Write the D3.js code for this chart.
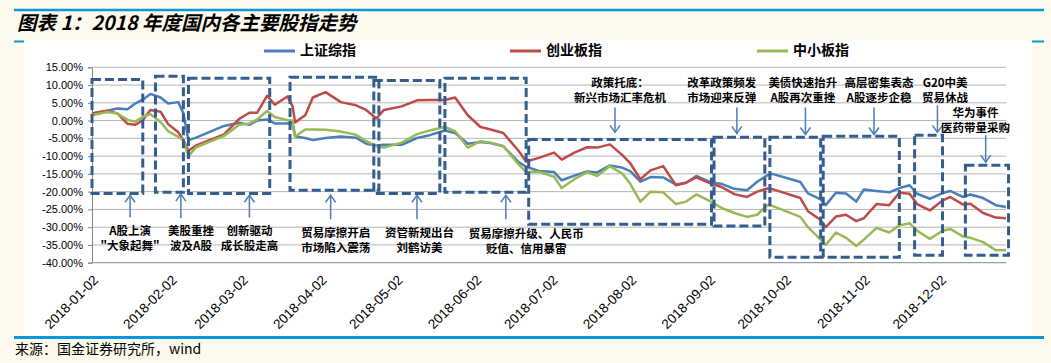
<!DOCTYPE html>
<html lang="zh">
<head>
<meta charset="UTF-8">
<title>2018年度国内各主要股指走势</title>
<style>
    * { margin: 0; padding: 0; }
    body { background: #fef9ed; }
    svg { display: block; }
</style>
</head>
<body>
<div id="chart"></div>
<script src="https://cdn.jsdelivr.net/npm/d3@7"></script>
<script>
// 日期（交易日采样）
const dates = [
    '2018-01-02', '2018-01-08', '2018-01-12', '2018-01-16', '2018-01-19', '2018-01-22', '2018-01-25', '2018-01-29',
    '2018-02-01', '2018-02-05', '2018-02-07', '2018-02-09', '2018-02-12', '2018-02-23',
    '2018-03-01', '2018-03-05', '2018-03-08', '2018-03-12', '2018-03-15', '2018-03-20', '2018-03-22', '2018-03-23', '2018-03-27', '2018-03-30',
    '2018-04-04', '2018-04-10', '2018-04-16', '2018-04-20', '2018-04-24', '2018-04-27',
    '2018-05-04', '2018-05-10', '2018-05-15', '2018-05-21', '2018-05-25', '2018-05-30',
    '2018-06-04', '2018-06-08', '2018-06-13', '2018-06-19', '2018-06-22', '2018-06-27',
    '2018-07-03', '2018-07-06', '2018-07-11', '2018-07-16', '2018-07-20', '2018-07-25', '2018-07-30',
    '2018-08-02', '2018-08-06', '2018-08-10', '2018-08-15', '2018-08-20', '2018-08-24', '2018-08-28',
    '2018-09-03', '2018-09-07', '2018-09-12', '2018-09-17', '2018-09-21', '2018-09-25', '2018-09-27',
    '2018-10-08', '2018-10-11', '2018-10-16', '2018-10-18', '2018-10-22', '2018-10-26', '2018-10-30',
    '2018-11-02', '2018-11-07', '2018-11-12', '2018-11-16', '2018-11-20', '2018-11-23', '2018-11-28',
    '2018-12-03', '2018-12-06', '2018-12-11', '2018-12-14', '2018-12-19', '2018-12-24', '2018-12-28'
]

// 上证综指 累计涨跌幅 %
const shIndex = [
    2.0, 2.8, 3.4, 3.2, 4.8, 5.9, 7.5, 6.5,
    4.8, 5.2, 2.0, -5.5, -4.8, -1.5,
    -0.6, -1.2, 0.0, 0.3, -0.8, -0.8, -0.8, -4.5, -4.9, -5.5,
    -4.9, -4.5, -4.8, -6.5, -7.0, -6.8,
    -6.8, -4.9, -4.1, -2.8, -3.5, -6.5,
    -6.0, -6.3, -7.2, -11.7, -13.0, -14.2,
    -14.5, -16.8, -15.5, -14.3, -14.6, -12.6, -13.3,
    -14.2, -17.2, -15.9, -16.0, -18.0, -17.5, -15.6,
    -17.5, -17.8, -19.2, -19.6, -17.2, -15.4, -15.0,
    -17.3, -20.5, -22.2, -23.8, -20.3, -20.5, -22.8,
    -19.4, -19.8, -20.2, -19.0, -18.2, -20.6, -22.0,
    -20.4, -19.8, -21.5, -20.8, -21.8, -23.8, -24.3
]

// 创业板指
const cyIndex = [
    2.0, 2.8, 2.0, -0.9, -1.2, 0.1, 3.0, 2.5,
    -1.0, -3.3, -5.5, -8.5, -7.0, -3.9,
    0.5, 2.2, 2.2, 7.0, 4.5, 6.8, 4.0, -0.5, 1.5, 6.5,
    8.0, 5.2, 4.3, 3.0, 0.6, 3.0,
    4.0, 5.7, 5.8, 5.8, 6.5, 1.5,
    -1.8, -2.5, -3.5, -8.5, -11.5, -10.5,
    -9.0, -11.0, -9.0, -7.5, -7.6, -6.7, -9.8,
    -12.0, -16.5, -14.0, -12.8, -18.2, -17.5, -16.0,
    -17.8, -18.7, -20.7, -21.5, -20.0, -19.1, -19.3,
    -21.8, -25.5, -28.0, -30.0, -27.0, -26.5, -28.3,
    -27.5, -23.5, -23.8, -20.3, -20.6, -23.5, -25.3,
    -22.5, -21.5, -23.6, -23.4, -26.0, -27.3, -27.5
]

// 中小板指
const zxIndex = [
    1.5, 2.4, 2.0, 0.2, -0.3, 1.0, 1.8, -0.4,
    -3.0, -4.6, -5.5, -10.0, -7.5, -4.3,
    -1.2, -0.8, 0.3, 2.7, 1.0, 0.1, 0.0, -4.5, -2.5, -2.5,
    -2.6, -3.1, -4.0, -5.8, -7.2, -7.6,
    -6.2, -3.8, -2.8, -1.8, -3.0, -7.6,
    -5.8, -6.2, -7.2, -12.3, -14.5, -14.4,
    -15.8, -19.0, -16.5, -14.5, -15.6, -12.8, -15.0,
    -17.8, -22.8, -20.0, -20.2, -23.5, -22.8, -20.8,
    -22.9, -24.6, -26.0, -27.1, -26.5, -23.8, -24.0,
    -27.1, -30.0, -33.5, -35.0, -31.5, -33.0, -35.3,
    -33.5, -30.2, -31.5, -29.5, -28.9, -31.0, -33.3,
    -31.0, -30.5, -32.6, -33.0, -34.2, -36.5, -36.4
]

const seriesNames = ['上证综指', '创业板指', '中小板指']
const tickLabels = [
    '2018-01-02', '2018-02-02', '2018-03-02', '2018-04-02', '2018-05-02', '2018-06-02',
    '2018-07-02', '2018-08-02', '2018-09-02', '2018-10-02', '2018-11-02', '2018-12-02'
]
const yTicks = [15, 10, 5, 0, -5, -10, -15, -20, -25, -30, -35, -40]

// 虚线框：起始日、结束日、上沿%、下沿%
const boxes = [
    ['2018-01-02', '2018-01-22', 11.6, -20.5],
    ['2018-01-27', '2018-02-07', 12.5, -20.2],
    ['2018-02-09', '2018-03-13', 11.9, -20.5],
    ['2018-03-21', '2018-04-25', 12.2, -19.6],
    ['2018-04-23', '2018-05-19', 11.3, -20.5],
    ['2018-05-21', '2018-06-22', 11.9, -20.2],
    ['2018-06-23', '2018-09-03', -5.3, -29.2],
    ['2018-09-04', '2018-09-24', -4.7, -29.7],
    ['2018-09-26', '2018-10-16', -4.7, -38.5],
    ['2018-10-17', '2018-11-16', -4.4, -38.5],
    ['2018-11-22', '2018-12-03', -4.1, -37.9],
    ['2018-12-12', '2018-12-29', -12.6, -37.9]
]

// 事件注释
const noteLines = [
    ['A股上演', '"大象起舞"'],
    ['美股重挫', '波及A股'],
    ['创新驱动', '成长股走高'],
    ['贸易摩擦开启', '市场陷入震荡'],
    ['资管新规出台', '刘鹤访美'],
    ['贸易摩擦升级、人民币', '贬值、信用暴雷'],
    ['政策托底：', '新兴市场汇率危机'],
    ['改革政策频发', '市场迎来反弹'],
    ['美债快速抬升', 'A股再次重挫'],
    ['高层密集表态', 'A股逐步企稳'],
    ['G20中美', '贸易休战'],
    ['华为事件', '医药带量采购']
]
const noteDates = [
    '2018-01-17', '2018-02-10', '2018-03-05', '2018-04-08', '2018-05-11', '2018-06-22',
    '2018-07-29', '2018-09-07', '2018-10-09', '2018-11-08', '2018-12-04', '2018-12-16'
]
const noteValues = [-31.2, -31.2, -31.2, -31.7, -31.7, -32.0, 10.5, 10.5, 10.5, 10.5, 10.5, 2.1]

// 箭头：日期、起点%、箭头尖%
const arrowDates = [
    '2018-01-17', '2018-02-06', '2018-03-05', '2018-04-06', '2018-05-10', '2018-06-14',
    '2018-07-27', '2018-09-13', '2018-10-10', '2018-11-06', '2018-12-01', '2018-12-20'
]
const arrowFrom = [-27.3, -27.5, -27.3, -27.8, -27.8, -27.8, 3.7, 3.7, 3.7, 3.7, 4.3, -4.1]
const arrowTo = [-21.0, -20.7, -21.0, -21.0, -21.0, -21.0, -3.3, -3.6, -3.9, -3.9, -3.3, -11.7]

const parse = d3.timeParse('%Y-%m-%d')
const width = 1051
const height = 363
const plot = { left: 92, right: 1006, top: 67.3, bottom: 262.7 }

const colors = ['#4a7ebb', '#be4b48', '#98b954']
const boxColor = '#335d8e'
const arrowColor = '#4a7ebb'
const cjk = '"Noto Sans CJK SC", sans-serif'
const latin = '"Liberation Sans", Arial, sans-serif'

const svg = d3.select('#chart')
    .append('svg')
    .attr('width', width)
    .attr('height', height)

// 标题区装饰线
svg.append('line')
    .attr('x1', 14).attr('x2', 1044).attr('y1', 10).attr('y2', 10)
    .attr('stroke', '#0a98dc').attr('stroke-width', 2.5)

svg.append('text')
    .attr('x', 17)
    .attr('y', 30)
    .text('图表 1：2018 年度国内各主要股指走势')
    .style('font-family', cjk)
    .style('font-size', '19.5px')
    .style('font-weight', 700)
    .style('font-style', 'italic')

svg.append('line')
    .attr('x1', 14).attr('x2', 1044).attr('y1', 41.5).attr('y2', 41.5)
    .attr('stroke', '#0a98dc').attr('stroke-width', 2)

svg.append('rect')
    .attr('x', 24).attr('y', 40)
    .attr('width', 1008).attr('height', 297)
    .attr('fill', '#fff')

svg.append('line')
    .attr('x1', 14).attr('x2', 1044).attr('y1', 337.5).attr('y2', 337.5)
    .attr('stroke', '#0a98dc').attr('stroke-width', 3)

svg.append('text')
    .attr('x', 15)
    .attr('y', 350)
    .attr('dominant-baseline', 'middle')
    .text('来源：国金证券研究所，wind')
    .style('font-family', cjk)
    .style('font-size', '14px')

// 比例尺
const xScale = d3.scaleTime()
    .domain([parse('2018-01-02'), parse('2018-12-28')])
    .range([plot.left, plot.right])

const yScale = d3.scaleLinear()
    .domain([-40, 15])
    .range([plot.bottom, plot.top])

const bounds = svg.append('g')

// 网格线
bounds.selectAll('line.grid')
    .data(yTicks)
    .join('line')
    .attr('class', 'grid')
    .attr('x1', plot.left)
    .attr('x2', plot.right)
    .attr('y1', d => yScale(d))
    .attr('y2', d => yScale(d))
    .attr('stroke', d => d === -40 ? '#868686' : '#b4b4b4')
    .attr('stroke-width', 1)

// y 轴
const yAxis = d3.axisLeft(yScale)
    .tickValues(yTicks)
    .tickSize(4)
    .tickFormat(d => d.toFixed(2) + '%')

const yAxisGroup = bounds.append('g')
    .attr('transform', `translate(${plot.left}, 0)`)
    .call(yAxis)

yAxisGroup.select('.domain').attr('stroke', '#868686')
yAxisGroup.selectAll('.tick line').attr('stroke', '#868686')
yAxisGroup.selectAll('.tick text')
    .attr('x', -9)
    .attr('fill', '#000')
    .style('font-family', latin)
    .style('font-size', '11px')

// x 轴标签
const xTicks = tickLabels.map(parse)
bounds.selectAll('text.x-label')
    .data(xTicks)
    .join('text')
    .attr('class', 'x-label')
    .attr('transform', d => `translate(${xScale(d) + 7}, 281) rotate(-45)`)
    .attr('text-anchor', 'end')
    .text(d => d3.timeFormat('%Y-%m-%d')(d))
    .style('font-family', latin)
    .style('font-size', '13.5px')

// 折线
const seriesValues = [shIndex, cyIndex, zxIndex]
const series = seriesValues.map((vals, i) => ({
    name: seriesNames[i],
    values: vals.map((v, j) => ({ date: parse(dates[j]), v }))
}))

const lineGen = d3.line()
    .x(d => xScale(d.date))
    .y(d => yScale(d.v))

bounds.selectAll('path.series')
    .data(series)
    .join('path')
    .attr('class', 'series')
    .attr('d', d => lineGen(d.values))
    .attr('fill', 'none')
    .attr('stroke', (d, i) => colors[i])
    .attr('stroke-width', 2.5)
    .attr('stroke-linejoin', 'round')

// 虚线框
bounds.selectAll('rect.box')
    .data(boxes)
    .join('rect')
    .attr('class', 'box')
    .attr('x', d => xScale(parse(d[0])))
    .attr('y', d => yScale(d[2]))
    .attr('width', d => xScale(parse(d[1])) - xScale(parse(d[0])))
    .attr('height', d => yScale(d[3]) - yScale(d[2]))
    .attr('fill', 'none')
    .attr('stroke', boxColor)
    .attr('stroke-width', 3)
    .attr('stroke-dasharray', '9,4')

// 箭头
const arrows = arrowDates.map((d, i) => ({
    x: xScale(parse(d)),
    y1: yScale(arrowFrom[i]),
    y2: yScale(arrowTo[i])
}))

const arrowGroup = bounds.append('g')
arrowGroup.selectAll('line')
    .data(arrows)
    .join('line')
    .attr('x1', d => d.x).attr('x2', d => d.x)
    .attr('y1', d => d.y1).attr('y2', d => d.y2)
    .attr('stroke', arrowColor)
    .attr('stroke-width', 1.5)

arrowGroup.selectAll('path')
    .data(arrows)
    .join('path')
    .attr('d', d => {
        const s = d.y1 > d.y2 ? 1 : -1
        return `M${d.x - 5},${d.y2 + s * 7} L${d.x},${d.y2} L${d.x + 5},${d.y2 + s * 7}`
    })
    .attr('fill', 'none')
    .attr('stroke', arrowColor)
    .attr('stroke-width', 1.5)

// 注释文字
const notes = bounds.selectAll('text.note')
    .data(noteLines)
    .join('text')
    .attr('class', 'note')
    .attr('text-anchor', 'middle')
    .style('font-family', cjk)
    .style('font-size', '11.5px')
    .style('font-weight', 700)

notes.selectAll('tspan')
    .data((d, i) => d.map((line, k) => ({ line, k, i })))
    .join('tspan')
    .attr('x', d => xScale(parse(noteDates[d.i])))
    .attr('y', d => yScale(noteValues[d.i]) + d.k * 14.5 + 4)
    .text(d => d.line)

// 图例
const legendX = [264, 510, 757]
const legend = svg.selectAll('g.legend')
    .data(seriesNames)
    .join('g')
    .attr('class', 'legend')
    .attr('transform', (d, i) => `translate(${legendX[i]}, 51)`)

legend.append('line')
    .attr('x1', 0).attr('x2', 31)
    .attr('stroke', (d, i) => colors[i])
    .attr('stroke-width', 3)

legend.append('text')
    .attr('x', 36)
    .attr('dominant-baseline', 'middle')
    .text(d => d)
    .style('font-family', cjk)
    .style('font-size', '14px')
    .style('font-weight', 700)
</script>
</body>
</html>
